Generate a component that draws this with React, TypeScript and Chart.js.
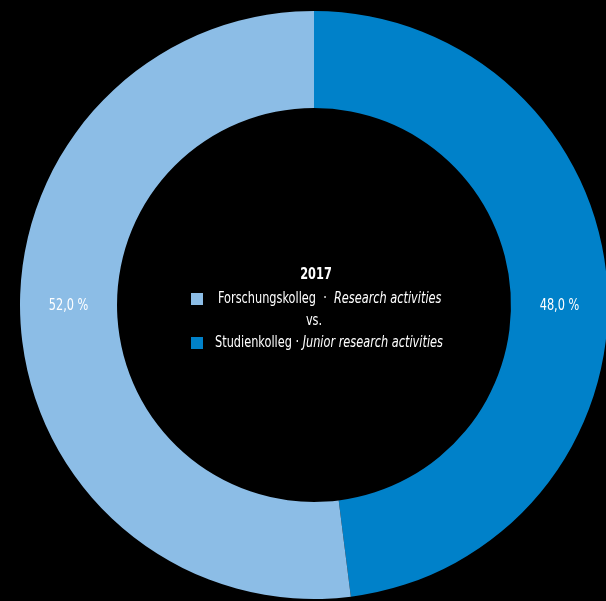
import React, { useEffect, useRef } from "react";
import { Chart, registerables } from "chart.js";

Chart.register(...registerables);

const categories = ["Studienkolleg", "Forschungskolleg"];
const categoriesEn = ["Junior research activities", "Research activities"];
const shares = [48.0, 52.0];
const colors = ["#0081c9", "#8cbde6"];
const year = "2017";

const FONT = "'Liberation Sans Narrow', 'DejaVu Sans Condensed', sans-serif";
const SX = 0.84;

function drawText(ctx: CanvasRenderingContext2D, text: string, x: number, y: number, align: CanvasTextAlign, font: string) {
  ctx.save();
  ctx.font = font;
  ctx.textAlign = align;
  ctx.translate(x, y);
  ctx.scale(SX, 1);
  ctx.fillText(text, 0, 0);
  const w = ctx.measureText(text).width * SX;
  ctx.restore();
  return w;
}

const labelPlugin = {
  id: "ringLabels",
  afterDatasetsDraw(chart: any) {
    const ctx = chart.ctx;
    const meta = chart.getDatasetMeta(0);
    const ds = chart.data.datasets[0];
    ctx.save();
    ctx.fillStyle = "#ffffff";
    ctx.textBaseline = "middle";
    meta.data.forEach((arc: any, i: number) => {
      const p = arc.getProps(["x", "y", "startAngle", "endAngle", "innerRadius", "outerRadius"], true);
      const mid = (p.startAngle + p.endAngle) / 2;
      const r = (p.innerRadius + p.outerRadius) / 2;
      const sign = Math.cos(mid) >= 0 ? 1 : -1;
      const v = (ds.data[i] as number).toFixed(1).replace(".", ",") + " %";
      drawText(ctx, v, p.x + sign * r, p.y + 1, "center", `15px ${FONT}`);
    });

    // center legend
    const arc0 = meta.data[0].getProps(["x", "y"], true);
    const cx = arc0.x;
    const cy = arc0.y;
    drawText(ctx, year, cx + 2, cy - 30, "center", `bold 15px ${FONT}`);
    drawText(ctx, "vs.", cx, cy + 16, "center", `15px ${FONT}`);

    const rows = [
      { idx: 1, y: cy - 6, sep: "  ·  ", start: cx - 96 },
      { idx: 0, y: cy + 38, sep: " · ", start: cx - 99 },
    ];
    rows.forEach((row) => {
      ctx.fillStyle = colors[row.idx];
      ctx.fillRect(cx - 123, row.y - 6, 12, 12);
      ctx.fillStyle = "#ffffff";
      const w = drawText(ctx, categories[row.idx] + row.sep, row.start, row.y, "left", `15px ${FONT}`);
      drawText(ctx, categoriesEn[row.idx], row.start + w, row.y, "left", `italic 15px ${FONT}`);
    });
    ctx.restore();
  },
};

export default function App() {
  const ref = useRef<HTMLCanvasElement>(null);
  useEffect(() => {
    if (!ref.current) return;
    const chart = new Chart(ref.current, {
      type: "doughnut",
      data: {
        labels: categories,
        datasets: [
          {
            data: shares,
            backgroundColor: colors,
            borderWidth: 0,
          },
        ],
      },
      options: {
        responsive: false,
        animation: false,
        cutout: "67%",
        layout: { padding: { left: 20, right: 20, top: 11, bottom: 11 } },
        plugins: {
          legend: { display: false },
          tooltip: { enabled: false },
        },
      },
      plugins: [labelPlugin],
    });
    return () => chart.destroy();
  }, []);
  return (
    <div
      style={{
        position: "fixed",
        left: 0,
        top: 0,
        width: 606,
        height: 601,
        overflow: "hidden",
        background: "#000000",
      }}
    >
      <canvas ref={ref} width={628} height={610} style={{ position: "absolute", left: 0, top: 0 }} />
    </div>
  );
}
